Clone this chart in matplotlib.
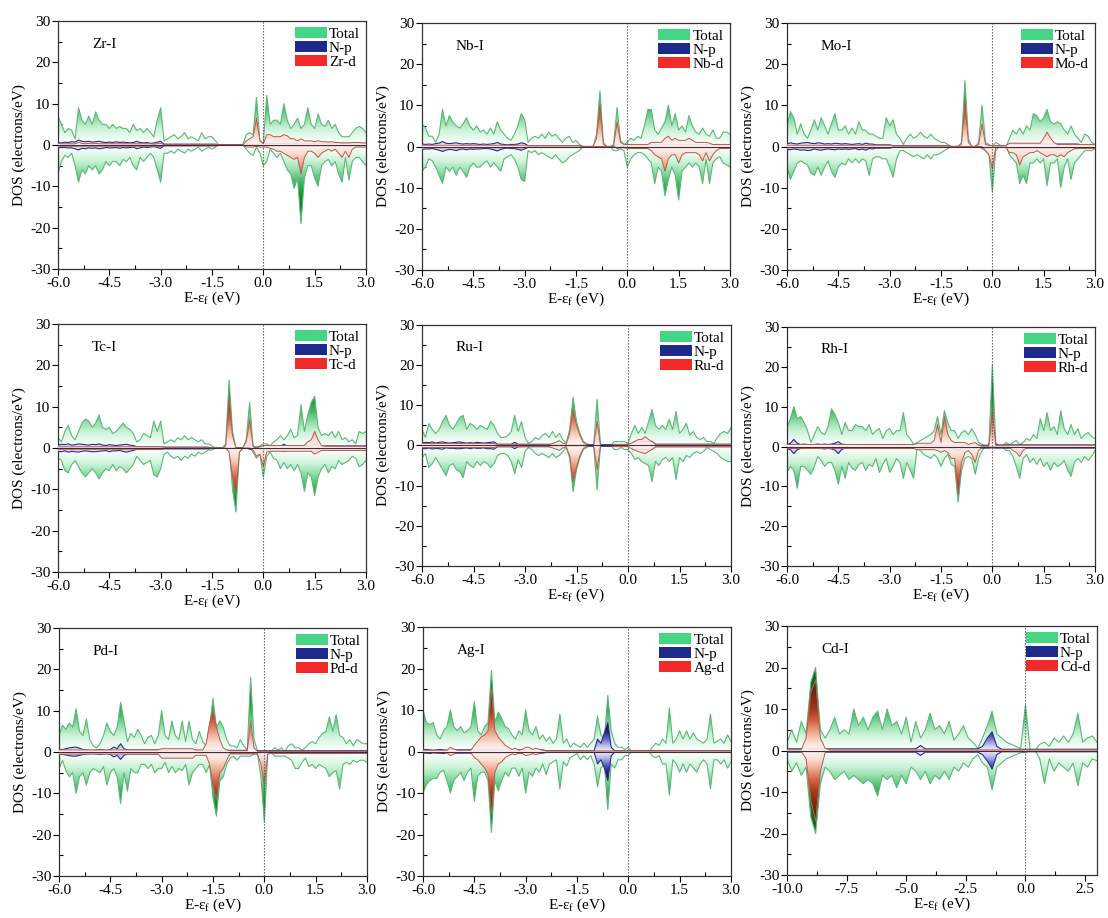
import numpy as np
import matplotlib
matplotlib.use('Agg')
import matplotlib.pyplot as plt
from matplotlib.colors import LinearSegmentedColormap
from matplotlib.patches import Patch, PathPatch
from matplotlib.ticker import MultipleLocator, FormatStrFormatter

plt.rcParams['font.family'] = ['Liberation Serif', 'DejaVu Serif']
plt.rcParams['font.size'] = 11
plt.rcParams['axes.unicode_minus'] = False

# energy grids (eV, relative to Fermi level)
energy = np.round(np.arange(-6.0, 3.001, 0.1), 2)
energy_cd = np.round(np.arange(-10.0, 3.001, 0.2), 2)

# ---------------- Zr-I ----------------
zr_tot_up = [7, 5, 3, 4, 3.5, 1.5, 9, 6, 5, 7,
             5, 8, 6, 5, 5, 4, 5, 4, 4.5, 4,
             4, 3, 5, 3.5, 4, 3, 4, 3, 2, 6,
             9, 1, 1.5, 2, 2.5, 1.5, 2, 3, 1.5, 2,
             1.5, 1, 3, 1.5, 2, 2, 1, 0, 0, 0,
             0, 0, 0, 0, 0, 2.5, 3, 2.5, 11.5, 1,
             0.5, 12, 5, 6, 6, 5, 10, 6, 4, 5,
             6.5, 4, 5, 9, 5, 4, 7.5, 5, 4.5, 6,
             4, 5, 3, 2, 2, 2, 3, 4, 4.5, 4,
             3]
zr_tot_dn = [7, 4, 2.5, 3, 2, 5, 9, 6, 7, 5,
             6, 5, 7, 6, 4, 5, 4, 4, 5, 3.5,
             4, 3, 5, 6, 3, 4, 3, 2, 3, 6,
             9, 2, 2, 1.5, 2, 1, 1.5, 2, 1, 1.5,
             1, 0.5, 1.5, 1, 0.5, 1, 0.5, 0, 0, 0,
             0, 0, 0, 0, 0, 1, 2, 2.5, 0.5, 2,
             5, 4, 1, 2, 3, 2, 4, 6, 7, 10.5,
             8, 19, 8, 5, 5, 8, 10, 5, 4, 3.5,
             5, 4, 7, 9, 3, 8.5, 4, 3, 3, 4,
             5]
zr_d_up = [0.4, 0.3, 0.3, 0.3, 0.3, 0.3, 0.6, 0.4, 0.3, 0.4,
           0.3, 0.4, 0.3, 0.3, 0.3, 0.3, 0.3, 0.3, 0.3, 0.3,
           0.3, 0.3, 0.3, 0.3, 0.3, 0.3, 0.3, 0.3, 0.2, 0.3,
           0.4, 0.1, 0.1, 0.1, 0.1, 0.1, 0.1, 0.1, 0.1, 0.1,
           0.1, 0.1, 0.1, 0.1, 0.1, 0.1, 0.1, 0, 0, 0,
           0, 0, 0, 0, 0, 1, 1.5, 2, 6.5, 1,
           0.3, 2.5, 2.5, 2, 2, 2, 2.5, 2.2, 1.5, 1.5,
           1, 1.5, 1, 1, 1, 0.8, 1, 0.8, 0.8, 0.7,
           0.8, 0.6, 0.6, 0.5, 0.5, 0.5, 0.6, 0.6, 0.6, 0.5,
           0.5]
zr_d_dn = ([0.3] * 30 + [0.4] + [0.1] * 16 + [0] * 8 + [0.5, 0.5, 0.5, 0.3, 0.5]
           + [0.5, 0.5, 0.8, 1, 1.5, 1.5, 2, 2.5, 3, 3.5]
           + [3, 7, 3, 1.5, 1.5, 2, 3, 2, 1.5, 1]
           + [1.5, 1, 2, 3, 1.5, 3, 1, 0.5, 0.5, 0.5] + [0.5])
zr_p_up = ([0.6, 0.5, 0.7, 0.6, 0.8, 0.7, 1.2, 0.9, 0.8, 0.9,
            0.7, 0.8, 0.9, 0.7, 0.6, 0.7, 0.6, 0.8, 0.6, 0.7,
            0.6, 0.5, 0.6, 0.9, 0.6, 0.5, 0.6, 0.4, 0.5, 0.7, 0.9]
           + [0.2] * 16 + [0] * 8 + [0.2] * 5 + [0.4] * 31)
zr_p_dn = ([0.7, 0.6, 0.6, 0.7, 0.7, 0.9, 1.2, 0.8, 0.9, 0.7,
            0.8, 0.7, 0.9, 0.8, 0.6, 0.7, 0.7, 0.6, 0.8, 0.6,
            0.7, 0.6, 0.5, 0.9, 0.7, 0.5, 0.6, 0.5, 0.4, 0.6, 0.8]
           + [0.2] * 16 + [0] * 8 + [0.2] * 5 + [0.3] * 31)

# ---------------- Nb-I ----------------
nb_tot_up = [5.5, 4.5, 2.5, 2.5, 1, 3, 9, 5, 7.5, 6,
             5, 4.5, 5.5, 7, 5, 4, 5, 3.5, 4, 3,
             4.5, 3, 6, 4, 3, 2, 1.5, 3, 5, 8,
             6.5, 1, 2, 2.5, 2, 3, 2, 3.5, 2.5, 3,
             2, 1, 2, 2.5, 1, 1.5, 0.5, 0, 0, 0,
             0, 3, 13.5, 1, 0, 0, 0.5, 9.5, 1.5, 0.5,
             1, 2, 1.5, 2.5, 2, 5, 9, 9, 4, 3,
             4.5, 6, 10, 5, 8, 4, 5, 3.5, 7.5, 5,
             3.5, 3, 4.5, 3, 2.5, 4, 2, 2, 3.5, 3.5,
             3]
nb_tot_dn = [6, 5, 3, 3.5, 5, 7, 9, 5, 6, 5,
             7, 5, 6, 7.5, 5, 4, 5, 5, 4, 3.5,
             5, 4, 5, 6, 3, 2.5, 2, 3, 5, 8,
             8.5, 1, 1.5, 1, 2, 1.5, 2, 2.5, 3, 2,
             3, 4, 3.5, 2.5, 2, 1.5, 1, 0, 0, 0,
             0, 0, 0, 0, 0, 0, 1, 1, 0.5, 1,
             5, 3, 2, 1.5, 1.5, 2, 3, 4, 9, 5,
             6, 12, 8, 5, 7, 13, 6, 5, 4, 5,
             4, 5, 9, 3, 9, 4, 3, 2.5, 4, 4.5,
             5]
nb_d_up = ([0.3] * 31 + [0.2] * 16 + [0] * 4 + [2, 10, 0.5, 0, 0, 0, 6, 1, 0.5]
           + [0.5] * 7 + [1, 1, 1]
           + [1, 2, 2.5, 1.5, 2, 1.5, 1.5, 1.5, 2, 1.5]
           + [1, 1, 1, 1, 0.8] + [0.5] * 6)
nb_d_dn = ([0.3] * 31 + [0.2] * 16 + [0] * 10 + [0.3] * 3 + [0.5] * 7 + [1, 2, 2.5]
           + [3, 6, 3, 2, 2, 4, 2, 1.5, 1.5, 1.5]
           + [1.5, 2, 3.5, 1.5, 3.5, 2, 1] + [0.5] * 4)
nb_p_up = ([0.6, 0.5, 0.6, 0.5, 0.7, 0.8, 1.2, 0.8, 0.7, 0.8,
            0.9, 0.7, 0.6, 0.7, 0.6, 0.7, 0.6, 0.5, 0.6, 0.5,
            0.6, 0.7, 1.0, 0.6, 0.5, 0.4, 0.5, 0.5, 0.6, 0.9, 0.7]
           + [0.2] * 16 + [0] * 10 + [0.5] + [0.2] * 2 + [0.4] * 31)
nb_p_dn = ([0.7, 0.6, 0.6, 0.5, 0.7, 0.9, 1.2, 0.9, 0.7, 0.8,
            1.0, 0.7, 0.6, 0.8, 0.6, 0.7, 0.6, 0.6, 0.5, 0.5,
            0.6, 0.8, 1.1, 0.7, 0.5, 0.4, 0.5, 0.5, 0.7, 0.9, 0.6]
           + [0.2] * 16 + [0] * 10 + [0.4] + [0.2] * 2 + [0.3] * 31)

# ---------------- Mo-I ----------------
mo_tot_up = [5, 8.5, 7, 3, 5.5, 3, 2, 4, 6.5, 4,
             7, 5, 3, 5.5, 8, 4, 4, 5, 3, 4.5,
             3, 6, 4, 4, 3, 3, 2.5, 2, 2, 7,
             5, 6.5, 3, 2, 0.5, 2, 3, 2, 2.5, 3.5,
             2.5, 2, 3, 2, 1.5, 1, 1, 0.5, 0, 0,
             0, 1, 16, 2, 0, 0, 1, 10, 1, 0.5,
             0, 1, 0.5, 0, 0, 2, 4, 3, 4.5, 3,
             5, 4, 8, 7.5, 6, 7, 9, 6, 5.5, 6,
             5.5, 4, 3, 5, 3, 2, 1, 3, 2.5, 1,
             0.5]
mo_tot_dn = [5, 8, 6, 4, 3.5, 4, 4.5, 6.5, 7, 5,
             7, 5, 3.5, 6, 7.5, 5, 4, 4.5, 3, 4,
             3, 4, 3, 3.5, 7, 3, 2.5, 2.5, 3, 3,
             5, 7.5, 3, 1, 1, 1.5, 2, 2.5, 2, 2.5,
             3, 2, 3, 2, 2, 1.5, 1, 0.5, 0, 0,
             0, 0, 0, 0, 0, 0, 0, 0.5, 1, 2,
             11, 1, 0, 0, 0, 2, 3, 4, 9, 7,
             9, 4, 4, 3, 4, 3, 9.5, 4, 4, 3,
             10, 5, 3, 8, 4, 3, 2, 1, 1, 1,
             0.5]
mo_d_up = ([0.3] * 31 + [0.15] * 17 + [0] * 3 + [0.5, 11, 1, 0, 0, 0.5, 5.5, 0.5, 0.3]
           + [0.2] * 5 + [0.8] * 10 + [2, 3.5, 2, 1] + [0.5] * 12)
mo_d_dn = ([0.3] * 31 + [0.15] * 17 + [0] * 10 + [1, 2, 5.5] + [0.2] * 4
           + [1.5, 1.5, 2, 4.5, 2.5, 2, 1.5, 1.5, 1, 1.5, 2, 2.5, 2, 2, 2.5, 2, 2.5, 1.5, 1]
           + [0.5] * 7)
mo_p_up = ([0.6, 0.9, 0.7, 0.6, 0.8, 0.9, 1.0, 0.8, 0.7, 0.9, 0.8, 0.6, 0.7,
            0.6, 0.8, 0.7, 0.6, 0.7, 0.6, 0.5, 0.6, 0.7, 0.5, 0.8, 0.6, 0.6]
           + [0.4] * 5 + [0.2] * 17 + [0] * 9 + [1, 0.3, 0.2] + [0.2] * 5
           + [0.6] * 21 + [0.3] * 5)
mo_p_dn = ([0.7, 0.8, 0.6, 0.7, 0.9, 0.8, 1.0, 0.9, 0.6, 0.8, 0.9, 0.7, 0.6,
            0.7, 0.8, 0.6, 0.7, 0.6, 0.7, 0.6, 0.5, 0.8, 0.6, 0.9, 0.5, 0.6]
           + [0.4] * 5 + [0.2] * 17 + [0] * 9 + [0.3, 0.3, 0.4] + [0.2] * 5
           + [0.5] * 21 + [0.3] * 5)

# ---------------- Tc-I ----------------
tc_tot_up = [2.5, 1.5, 4, 5.5, 3, 2, 4, 6, 7, 6.5,
             5, 6, 8, 5, 4.5, 5, 3.5, 4, 5, 6,
             5, 4.5, 3.5, 1.5, 2, 3.5, 3, 2.5, 6.5, 4,
             6.5, 1, 1.5, 2, 1.5, 2.5, 2, 3, 2, 2.5,
             2, 1.5, 2, 1, 1, 0.5, 0, 0, 0, 1,
             16.5, 4, 0, 0, 0, 2, 11, 0.5, 0, 0.5,
             1, 1, 0.5, 1.5, 2, 3, 2, 3, 4.5, 2.5,
             3, 10.5, 4, 8, 11, 12.5, 5, 3, 3.5, 3,
             4, 2.5, 4, 2, 2.5, 1.5, 2, 1, 4, 3.5,
             4]
tc_tot_dn = [2.5, 3, 5.5, 6, 4, 3, 4.5, 6, 7, 6,
             5, 6, 7.5, 6, 5, 5.5, 4, 5.5, 4.5, 5,
             6, 5, 4, 2, 3, 4, 3.5, 3, 6.5, 7,
             5, 1.5, 1, 2, 2.5, 2, 3, 2, 2.5, 1.5,
             2, 1, 1.5, 1, 0.5, 0.5, 0, 0, 0, 0,
             0, 10, 15.5, 1, 0, 0, 0, 1, 2.5, 1.5,
             7, 2, 1, 2.5, 3, 5, 3.5, 5, 4, 5.5,
             4, 6, 10.5, 6, 7, 11.5, 7, 5, 4, 6,
             4.5, 5, 3, 4, 3.5, 3, 2, 2.5, 4.5, 4,
             3]
tc_d_up = ([0.3] * 31 + [0.15] * 13 + [0] * 5
           + [0.5, 12, 3, 0, 0, 0, 1.5, 7, 0.3, 0, 0.3]
           + [0.6] * 13 + [1.5, 2, 4, 2, 0.6] + [0.4] * 13)
tc_d_dn = ([0.3] * 31 + [0.15] * 13 + [0] * 5
           + [0, 1, 7, 11, 1, 0, 0, 0, 0.5, 2, 1.5]
           + [4.5, 1] + [0.8] * 13 + [1.5, 1] + [0.6] * 14)
tc_p_up = ([0.7, 0.9, 0.8, 1.0, 0.7, 0.8, 1.0, 0.9, 0.8, 0.7, 0.9, 0.8,
            1.0, 0.7, 0.6, 0.8, 0.7, 0.6, 0.7, 0.8, 0.9, 0.7, 0.6]
           + [0.3] * 8 + [0.2] * 14 + [0] * 5 + [0.3] + [0] * 5 + [1.0] + [0.2] * 3
           + [0.5] * 6 + [0.9] + [0.5] * 8 + [1.0] + [0.5] * 15)
tc_p_dn = ([0.8, 0.9, 0.7, 1.0, 0.8, 0.9, 1.0, 0.8, 0.7, 0.8, 0.9, 0.9,
            0.8, 0.7, 0.6, 0.9, 0.7, 0.7, 0.6, 0.8, 1.0, 0.8, 0.6]
           + [0.3] * 8 + [0.2] * 14 + [0] * 5 + [0.3] + [0] * 5 + [0.3] + [0.2] * 3
           + [0.5] * 6 + [0.8] + [0.5] * 8 + [1.0] + [0.4] * 15)

# ---------------- Ru-I ----------------
ru_tot_up = [4, 2, 5.5, 4, 3, 4, 6, 7.5, 5, 4,
             5.5, 7, 7.5, 4, 5.5, 5, 4, 5, 4.5, 4,
             6, 5, 3, 2, 2, 2.5, 3.5, 7.5, 3.5, 6,
             2, 0.5, 1, 2, 1.5, 2.5, 3, 2, 3.5, 2,
             3, 1.5, 0.5, 4, 12, 6, 3, 1, 0.5, 0,
             0, 11.5, 0, 0, 0, 0, 1, 1, 1, 1,
             0.5, 3, 5, 3, 4.5, 3, 6, 9, 5, 4,
             5, 4, 6.5, 4, 8.5, 3, 4, 5.5, 2.5, 3.5,
             2, 1.5, 2, 1, 1, 0.5, 2, 3, 3.5, 3,
             4.5]
ru_tot_dn = [3, 2, 5.5, 4.5, 3, 4.5, 6, 7.5, 5, 4.5,
             6, 6.5, 8, 4, 5, 5.5, 4, 5, 4, 4.5,
             5.5, 4.5, 2.5, 2, 2, 2.5, 4, 7, 3.5, 5.5,
             1.5, 0.5, 1, 2, 2.5, 2, 2.5, 3, 2, 3,
             2.5, 1.5, 0.5, 3, 11.5, 6, 3, 1, 0.5, 0,
             0, 11, 0, 0, 0, 0, 1, 1, 0.5, 1,
             1, 2, 3.5, 3, 4, 4.5, 5, 9, 4, 5,
             3.5, 3, 4, 3, 8.5, 3, 4, 2.5, 3, 2,
             1.5, 2, 1.5, 0.5, 1, 1.5, 2, 3, 3.5, 4,
             4]
ru_d_up = ([0.5] * 22 + [0.3] * 8 + [0.2] * 8
           + [0.5, 0.8, 1.2, 0.6, 0.3, 3, 9, 5, 2.5, 0.7, 0.2, 0, 0]
           + [6] + [0] * 4 + [0.3] * 4 + [0.3, 0.6, 1, 1.5, 1.5, 2.2, 1.5, 1] + [0.3] * 23)
ru_d_dn = ([0.5] * 22 + [0.3] * 8 + [0.2] * 8
           + [0.6, 0.9, 1.2, 0.6, 0.3, 2.5, 9, 5.5, 2.5, 0.7, 0.2, 0, 0]
           + [6] + [0] * 4 + [0.3] * 4 + [0.3, 0.8, 1.2, 1.5, 1.8, 2, 1.5, 1] + [0.3] * 23)
ru_p_up = ([0.6, 0.8, 0.7, 0.9, 0.6, 0.8, 0.9, 0.7, 0.6, 0.7, 0.8,
            0.9, 0.7, 0.6, 0.7, 0.6, 0.8, 0.7, 0.6, 0.7, 0.8, 0.9]
           + [0.3] * 5 + [0.8] + [0.3] * 13 + [0.2] * 10 + [2] + [0.2] * 8
           + [0.3] * 2 + [1.0] * 6 + [0.3] * 23)
ru_p_dn = ([0.7, 0.8, 0.6, 0.9, 0.7, 0.8, 0.9, 0.6, 0.7, 0.7, 0.8,
            0.8, 0.7, 0.6, 0.8, 0.6, 0.7, 0.7, 0.6, 0.8, 0.8, 0.9]
           + [0.3] * 5 + [0.8] + [0.3] * 13 + [0.2] * 10 + [2] + [0.2] * 8
           + [0.3] * 2 + [1.0] * 6 + [0.3] * 23)

# ---------------- Rh-I ----------------
rh_tot_up = [5, 7, 10, 7, 7.5, 6, 4, 1, 3, 5,
             3.5, 3, 5, 9.5, 8, 6, 3, 6, 4, 4,
             5.5, 5, 5, 4, 5.5, 3, 4, 4.5, 2, 4,
             4.5, 3, 4, 4, 8.5, 3, 2, 0.5, 1, 1.5,
             2, 2.5, 3, 4, 7.5, 3, 9, 6, 4, 4,
             2, 3.5, 4, 3, 4.5, 3, 1, 0.5, 0, 0.5,
             20.5, 1, 0, 0, 1, 0.5, 1, 1.5, 0.5, 1,
             2, 1.5, 3, 2, 7, 4, 8.5, 4, 5, 3,
             9, 4.5, 3, 5.5, 3, 4.5, 2, 3, 3.5, 2.5,
             2]
rh_tot_dn = [6.5, 5, 6, 10.5, 5, 5, 6, 7, 5, 2.5,
             3.5, 5, 4, 4, 6, 9.5, 5, 8, 4, 5.5,
             6, 4.5, 4, 6, 4.5, 5, 3, 6.5, 4.5, 3,
             6.5, 5, 3, 4, 8, 4, 6, 8, 0.5, 1,
             2, 2.5, 3, 2, 3, 5, 3, 2, 4.5, 5,
             14, 6, 3, 2.5, 3, 7, 3, 1, 0, 0,
             0, 0, 0, 0, 1, 1, 2.5, 5, 8, 3,
             2, 4, 3, 4.5, 3, 5, 4, 6, 4, 5,
             4.5, 3.5, 6, 7.5, 4, 3, 4, 2.5, 3.5, 2.5,
             1]
rh_d_up = ([0.5] * 38 + [0.8] * 5 + [1.5, 5.5, 1, 7.5, 3, 1.5, 1] + [1] * 3
           + [0.5, 0.8, 1, 0.3] + [0.1] * 3 + [9.5, 0.2] + [0.3] * 29)
rh_d_dn = ([0.5] * 38 + [0.8] * 6 + [1, 1.5, 1, 1.5, 3, 3, 12, 4, 1.5, 1, 2, 4, 1]
           + [0.2] * 9 + [1, 1.5, 2.5, 1] + [0.3] * 21)
rh_p_up = ([0.5, 0.8, 1.8, 0.8, 0.5, 0.6, 0.5, 0.4, 0.5, 0.6,
            0.5, 0.6, 0.5, 0.6, 0.8, 1.2, 0.6, 0.5, 0.4, 0.5]
           + [0.4] * 18 + [0.3] * 22 + [5] + [0.4] * 30)
rh_p_dn = ([0.5, 0.8, 1.8, 0.8, 0.5, 0.5, 0.4, 0.5, 0.4, 0.5,
            0.5, 0.6, 0.5, 0.6, 0.9, 1.8, 0.7, 0.5, 0.4, 0.5]
           + [0.4] * 18 + [0.4] * 10 + [0.6, 0.6, 1.0] + [0.4] * 9 + [0.3]
           + [0.4] * 7 + [1.8] + [0.4] * 22)

# ---------------- Pd-I ----------------
pd_tot_up = [4, 6.5, 5.5, 7, 6, 10.5, 5, 4, 8, 3,
             1.5, 1, 2, 4, 7, 5, 4, 6, 12, 7.5,
             2.5, 4.5, 3.5, 5.5, 4, 2, 3.5, 4, 2, 4,
             10, 4, 3, 7.5, 4, 3, 7.5, 2.5, 7.5, 3,
             2, 5, 2.5, 1.5, 6, 13, 6, 7.5, 6, 3,
             1.5, 1.5, 1, 3, 1.5, 0.5, 18, 3, 0.3, 0,
             0, 0, 0, 1, 0.5, 1, 0, 1.5, 2, 1,
             1, 0.5, 1, 2, 2.5, 2, 3.5, 4.5, 5, 8.5,
             5, 9, 4, 3.5, 2, 3, 1.5, 3, 2.5, 2,
             2]
pd_tot_dn = [4, 2, 4.5, 6, 5, 10, 6, 5, 8, 5,
             4, 4.5, 5, 3.5, 8, 5, 4, 6, 12.5, 5,
             9.5, 4, 5, 5, 3, 3, 4, 3, 5, 4,
             4, 2.5, 5, 3.5, 5, 4, 4.5, 3, 8, 5,
             4, 3, 3, 5, 3, 11, 15.5, 7, 6, 3,
             1.5, 1, 2, 1, 1, 1, 1, 0.5, 0.5, 6,
             17, 0.5, 0, 1, 1, 1, 1, 1.5, 2, 4,
             4, 2.5, 1.5, 3.5, 3, 4, 3, 3.5, 4, 6,
             5, 4.5, 9, 3, 2.5, 3, 2, 2.5, 2, 2,
             2.5]
pd_d_up = ([0.5] * 30 + [0.8] * 10 + [0.5] * 3 + [2, 7, 10, 6, 3, 1, 0.5]
           + [0.3] * 6 + [7.5, 1] + [0.15] * 33)
pd_d_dn = ([0.5] * 30 + [1.5] * 10 + [0.8] * 4 + [3, 8, 11.5, 5, 4, 2]
           + [0.4] * 9 + [3, 8, 0.5] + [0.3] * 29)
pd_p_up = ([0.5, 0.6, 0.8, 1.0, 1.1, 1.2, 0.9, 0.6, 0.5, 0.4,
            0.4, 0.5, 0.6, 0.5, 0.4, 0.6, 1.2, 0.8, 2.0, 0.8]
           + [0.5] * 10 + [0.4] * 26 + [5] + [0.3] * 34)
pd_p_dn = ([0.5, 0.6, 0.7, 0.9, 1.0, 1.0, 0.8, 0.6, 0.5, 0.4,
            0.4, 0.5, 0.6, 0.5, 0.4, 0.6, 1.2, 0.8, 1.8, 0.8]
           + [0.5] * 10 + [0.4] * 30 + [4.5] + [0.3] * 30)

# ---------------- Ag-I ----------------
ag_tot_up = [10, 7, 6.5, 7, 4, 3, 5, 6, 10, 6,
             5, 6, 4.5, 5, 6, 12, 5, 4, 6, 7,
             19.5, 7, 9.5, 8, 6, 5.5, 4, 3, 5, 4,
             10, 5, 4, 6, 3, 4, 2.5, 3.5, 2, 3,
             9, 2, 3, 1, 2, 1.5, 1, 2, 1, 2,
             3, 8.5, 4, 3, 13.5, 5, 2, 1, 1, 0.5,
             1, 0, 0, 0, 0, 0, 0, 1, 2, 1.5,
             3, 2, 10.5, 2, 3, 5, 3, 5, 3, 4.5,
             3, 2.5, 2, 3, 9, 2, 2.5, 3, 2, 4,
             2.5]
ag_tot_dn = [10, 8, 7, 6.5, 6.5, 5, 4.5, 7, 10, 7,
             6, 5, 7, 5, 4, 12, 6, 5, 5, 7,
             19.5, 7, 9.5, 7, 5, 6, 4, 4, 6, 4,
             10, 5, 6, 4, 5, 3, 5.5, 3, 2.5, 2,
             9, 2.5, 3.5, 1.5, 1, 0.5, 2, 1, 2, 1,
             3, 8.5, 4, 3, 14, 3, 4, 2, 2, 1,
             1, 0, 0, 0, 0, 0, 0, 1, 1.5, 1,
             3, 3, 10.5, 2, 3, 5, 3, 5, 3, 4,
             5, 3, 2, 3, 9, 2, 2, 3, 2, 4,
             2.5]
ag_d_up = ([0.3] * 8 + [1, 0.6] + [0.3] * 5
           + [1.5, 2.5, 3.5, 4, 5, 15, 5, 3.5, 2.5, 1.5, 1, 0.5, 0.8, 0.3, 0.5,
              1, 1, 0.5, 0.8, 0.5, 0.3]
           + [0.15] * 55)
ag_d_dn = ([0.3] * 8 + [1, 0.6] + [0.3] * 5
           + [1.5, 2, 3, 4, 5.5, 15, 5, 3, 2.5, 1.5, 1, 0.6, 0.8, 0.3, 0.5,
              1, 0.8, 0.5, 0.8, 0.5, 0.3]
           + [0.15] * 55)
ag_p_up = ([0.4, 0.5, 0.4, 0.3, 0.4, 0.5, 0.4, 0.3, 0.4, 0.5] + [0.4] * 26
           + [0.2] * 15 + [3, 2, 4.5, 7, 1] + [0.2] * 35)
ag_p_dn = ([0.4, 0.4, 0.5, 0.3, 0.4, 0.4, 0.5, 0.3, 0.4, 0.4] + [0.4] * 26
           + [0.2] * 15 + [3, 2, 4, 7, 1] + [0.2] * 35)

# ---------------- Cd-I ----------------
cd_tot_up = [2, 5, 2, 7, 4, 16.5, 20, 5, 3, 5,
             8, 4, 5, 4, 10, 6, 8, 5, 8, 9.5,
             5, 10, 6, 7, 4, 8, 2, 7, 3, 5,
             9, 5, 6, 4, 7, 2.5, 4, 6, 3, 2,
             0.5, 3, 6, 9.5, 4, 3, 2, 1.5, 1, 0.5,
             11, 0, 0, 1.5, 2, 1, 3, 2, 3.5, 2,
             4, 9, 2, 3, 3.5, 2]
cd_tot_dn = [2, 5, 3, 6, 4, 16, 20, 8, 4, 5,
             7, 6, 5, 7, 6, 7, 8, 7, 8, 11,
             6, 7, 6, 9, 6, 8, 4, 5, 7, 5,
             8, 6, 7, 5, 7, 4, 5, 3, 4, 2,
             1, 3, 4, 9.5, 4, 3, 2, 1.5, 1, 0.5,
             0.5, 0, 0, 2, 8, 2, 5, 3, 4, 5,
             3, 8.5, 3, 4, 2, 2.5]
cd_d_up = [0.2] * 4 + [3, 14, 17, 3, 0.5] + [0.15] * 57
cd_d_dn = [0.2] * 4 + [2, 12, 17, 5, 0.5] + [0.15] * 57
cd_p_up = [0.4] * 28 + [1.2] + [0.4] * 12 + [1, 3, 4.5, 1] + [0.3] * 21
cd_p_dn = [0.4] * 28 + [1.2] + [0.4] * 12 + [1, 2.5, 4.5, 1] + [0.3] * 21

panels = [
    ('Zr-I', 'Zr-d', energy, zr_tot_up, zr_tot_dn, zr_p_up, zr_p_dn, zr_d_up, zr_d_dn),
    ('Nb-I', 'Nb-d', energy, nb_tot_up, nb_tot_dn, nb_p_up, nb_p_dn, nb_d_up, nb_d_dn),
    ('Mo-I', 'Mo-d', energy, mo_tot_up, mo_tot_dn, mo_p_up, mo_p_dn, mo_d_up, mo_d_dn),
    ('Tc-I', 'Tc-d', energy, tc_tot_up, tc_tot_dn, tc_p_up, tc_p_dn, tc_d_up, tc_d_dn),
    ('Ru-I', 'Ru-d', energy, ru_tot_up, ru_tot_dn, ru_p_up, ru_p_dn, ru_d_up, ru_d_dn),
    ('Rh-I', 'Rh-d', energy, rh_tot_up, rh_tot_dn, rh_p_up, rh_p_dn, rh_d_up, rh_d_dn),
    ('Pd-I', 'Pd-d', energy, pd_tot_up, pd_tot_dn, pd_p_up, pd_p_dn, pd_d_up, pd_d_dn),
    ('Ag-I', 'Ag-d', energy, ag_tot_up, ag_tot_dn, ag_p_up, ag_p_dn, ag_d_up, ag_d_dn),
    ('Cd-I', 'Cd-d', energy_cd, cd_tot_up, cd_tot_dn, cd_p_up, cd_p_dn, cd_d_up, cd_d_dn),
]

# axes boxes in pixels: left, top, right, bottom
boxes = [(58, 21, 366, 269), (422, 23, 730, 270), (787, 23, 1095, 270),
         (58, 324, 366, 572), (422, 325, 731, 566), (787, 327, 1095, 566),
         (59, 628, 367, 876), (423, 627, 731, 876), (787, 626, 1097, 875)]

# gradient colours keyed by |DOS|
green_cmap = LinearSegmentedColormap.from_list('tot', [
    (0.0, '#fcfffd'), (2 / 16, '#e8faee'), (4 / 16, '#c9f1d6'), (6 / 16, '#97dfae'),
    (9 / 16, '#45b968'), (12 / 16, '#179231'), (1.0, '#0a6a1f')])
red_cmap = LinearSegmentedColormap.from_list('dstate', [
    (0.0, '#fff6f3'), (2 / 15, '#fcdcd2'), (4 / 15, '#f5ad96'), (7 / 15, '#e0583c'),
    (10 / 15, '#b02a14'), (1.0, '#6e1a0c')])
blue_cmap = LinearSegmentedColormap.from_list(
    'pstate', ['#f3f3ff', '#b8b8ec', '#6a6ac8', '#2a2a95', '#121255'])

levels = np.abs(np.linspace(-30, 30, 601))[:, None]


def shade(ax, x, y, cmap, vmax, z, edge, lw=0.8, alpha=1.0):
    poly = ax.fill_between(x, 0, y, facecolor='none', edgecolor='none', zorder=z)
    clip = PathPatch(poly.get_paths()[0], transform=ax.transData,
                     facecolor='none', edgecolor='none')
    ax.add_patch(clip)
    im = ax.imshow(levels, extent=(x[0], x[-1], -30, 30), origin='lower',
                   aspect='auto', cmap=cmap, vmin=0, vmax=vmax, zorder=z,
                   interpolation='bilinear', alpha=alpha)
    im.set_clip_path(clip)
    ax.plot(x, y, color=edge, lw=lw, zorder=z + 0.1)


W, H = 1108, 918
fig = plt.figure(figsize=(W / 100, H / 100), dpi=100)

for (name, dlabel, x, tup, tdn, pup, pdn, dup, ddn), (l, t, r, b) in zip(panels, boxes):
    ax = fig.add_axes([l / W, 1 - b / H, (r - l) / W, (b - t) / H])
    x = np.asarray(x)

    shade(ax, x, np.array(tup, float), green_cmap, 16, 2, '#5cb877')
    shade(ax, x, -np.array(tdn, float), green_cmap, 16, 2, '#5cb877')
    shade(ax, x, np.array(pup, float), blue_cmap, 6, 3, '#2c2c8c', lw=0.8)
    shade(ax, x, -np.array(pdn, float), blue_cmap, 6, 3, '#2c2c8c', lw=0.8)
    shade(ax, x, np.array(dup, float), red_cmap, 15, 4, '#b85a50', lw=0.7, alpha=0.9)
    shade(ax, x, -np.array(ddn, float), red_cmap, 15, 4, '#b85a50', lw=0.7, alpha=0.9)

    ax.axhline(0, color='#4a2a30', lw=0.8, zorder=5)
    ax.axvline(0, color='#555555', lw=0.8, ls=(0, (1.2, 1.5)), zorder=5)

    ax.set_xlim(x[0], x[-1])
    ax.set_ylim(-30, 30)
    if x[0] < -9:
        ax.xaxis.set_major_locator(MultipleLocator(2.5))
        ax.xaxis.set_minor_locator(MultipleLocator(1.25))
    else:
        ax.xaxis.set_major_locator(MultipleLocator(1.5))
        ax.xaxis.set_minor_locator(MultipleLocator(0.75))
    ax.xaxis.set_major_formatter(FormatStrFormatter('%.1f'))
    ax.yaxis.set_major_locator(MultipleLocator(10))
    ax.yaxis.set_minor_locator(MultipleLocator(5))
    ax.tick_params(which='major', direction='out', length=4, width=0.8,
                   labelsize=11, pad=1.5, top=False, right=False)
    ax.tick_params(which='minor', direction='in', length=3, width=0.8,
                   top=False, right=False)
    for sp in ax.spines.values():
        sp.set_linewidth(0.9)
        sp.set_color('#333333')

    ax.set_ylabel('DOS (electrons/eV)', fontsize=11, labelpad=3)
    ax.set_xlabel('E-ε$_\\mathregular{f}$ (eV)', fontsize=11, labelpad=0)
    ax.text(0.11, 0.905, name, transform=ax.transAxes, fontsize=11,
            va='center', zorder=6)

    handles = [Patch(facecolor='#44d685', edgecolor='none'),
               Patch(facecolor='#1c2a8c', edgecolor='none'),
               Patch(facecolor='#f22a2a', edgecolor='none')]
    leg = ax.legend(handles, ['Total', 'N-p', dlabel], loc='upper right',
                    frameon=False, fontsize=11, handlelength=2.1, handleheight=0.75,
                    handletextpad=0.15, labelspacing=0.0, borderaxespad=0.0)
    leg.set_zorder(10)

fig.savefig('out.png', dpi=100, facecolor='white')
